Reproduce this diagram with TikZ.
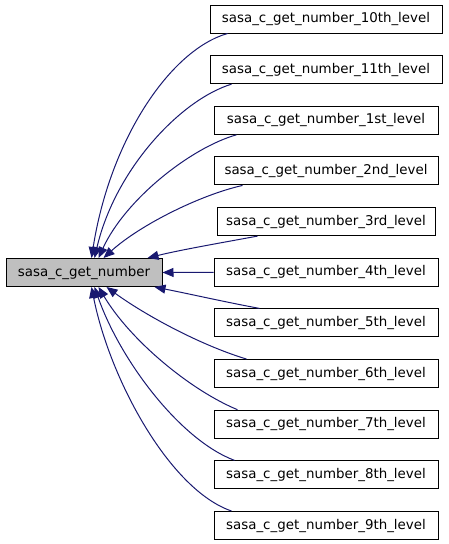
\documentclass[tikz,border=0pt]{standalone}
\usepackage{fontspec}
\setmainfont{DejaVu Sans}
\usetikzlibrary{arrows.meta,calc}
\definecolor{edgeblue}{HTML}{191970}
\definecolor{maingray}{HTML}{BFBFBF}
\tikzset{
  fnbox/.style={draw=black, line width=1pt, fill=white, minimum height=28pt, inner sep=0pt, font=\fontsize{13.4}{16}\selectfont},
  mainbox/.style={fnbox, fill=maingray, minimum width=156pt},
  edge/.style={draw=edgeblue, line width=1pt, -{Triangle[length=11pt,width=9pt]}},
}
\begin{document}
\begin{tikzpicture}[x=1pt,y=-1pt]
\useasboundingbox (0,0) rectangle (448,544);
\node[mainbox] (main) at (84,272.5) {sasa\_c\_get\_number};
\node[fnbox, minimum width=232pt] (b10) at (326,19) {sasa\_c\_get\_number\_10th\_level};
\node[fnbox, minimum width=232pt] (b11) at (326,69.65) {sasa\_c\_get\_number\_11th\_level};
\node[fnbox, minimum width=224pt] (b1) at (326,120.3) {sasa\_c\_get\_number\_1st\_level};
\node[fnbox, minimum width=224pt] (b2) at (326,170.95) {sasa\_c\_get\_number\_2nd\_level};
\node[fnbox, minimum width=218pt] (b3) at (326,221.6) {sasa\_c\_get\_number\_3rd\_level};
\node[fnbox, minimum width=224pt] (b4) at (326,272.25) {sasa\_c\_get\_number\_4th\_level};
\node[fnbox, minimum width=224pt] (b5) at (326,322.9) {sasa\_c\_get\_number\_5th\_level};
\node[fnbox, minimum width=224pt] (b6) at (326,373.55) {sasa\_c\_get\_number\_6th\_level};
\node[fnbox, minimum width=224pt] (b7) at (326,424.2) {sasa\_c\_get\_number\_7th\_level};
\node[fnbox, minimum width=224pt] (b8) at (326,474.85) {sasa\_c\_get\_number\_8th\_level};
\node[fnbox, minimum width=224pt] (b9) at (326,525.5) {sasa\_c\_get\_number\_9th\_level};
% upper edges
\draw[edge] ($(b10.south west)+(18,0)$) .. controls (170,50) and (110,140) .. ($(main.north west)+(86,0)$);
\draw[edge] ($(b11.south west)+(22,0)$) .. controls (180,100) and (115,170) .. ($(main.north west)+(89,0)$);
\draw[edge] ($(b1.south west)+(23,0)$) .. controls (190,148) and (125,200) .. ($(main.north west)+(93,0)$);
\draw[edge] ($(b2.south west)+(29,0)$) .. controls (200,195) and (140,225) .. ($(main.north west)+(98,0)$);
\draw[edge] ($(b3.south west)+(41,0)$) .. controls (220,243) and (180,250) .. ($(main.north west)+(142,0)$);
% middle edge
\draw[edge] (b4.west) -- (main.east);
% lower edges
\draw[edge] ($(b5.north west)+(46,0)$) .. controls (225,302) and (190,294) .. ($(main.south west)+(149,0)$);
\draw[edge] ($(b6.north west)+(33,0)$) .. controls (200,345) and (145,315) .. ($(main.south west)+(101,0)$);
\draw[edge] ($(b7.north west)+(24,0)$) .. controls (190,390) and (130,340) .. ($(main.south west)+(93,0)$);
\draw[edge] ($(b8.north west)+(21,0)$) .. controls (180,440) and (120,360) .. ($(main.south west)+(89,0)$);
\draw[edge] ($(b9.north west)+(18,0)$) .. controls (170,490) and (110,380) .. ($(main.south west)+(86,0)$);
\end{tikzpicture}
\end{document}
